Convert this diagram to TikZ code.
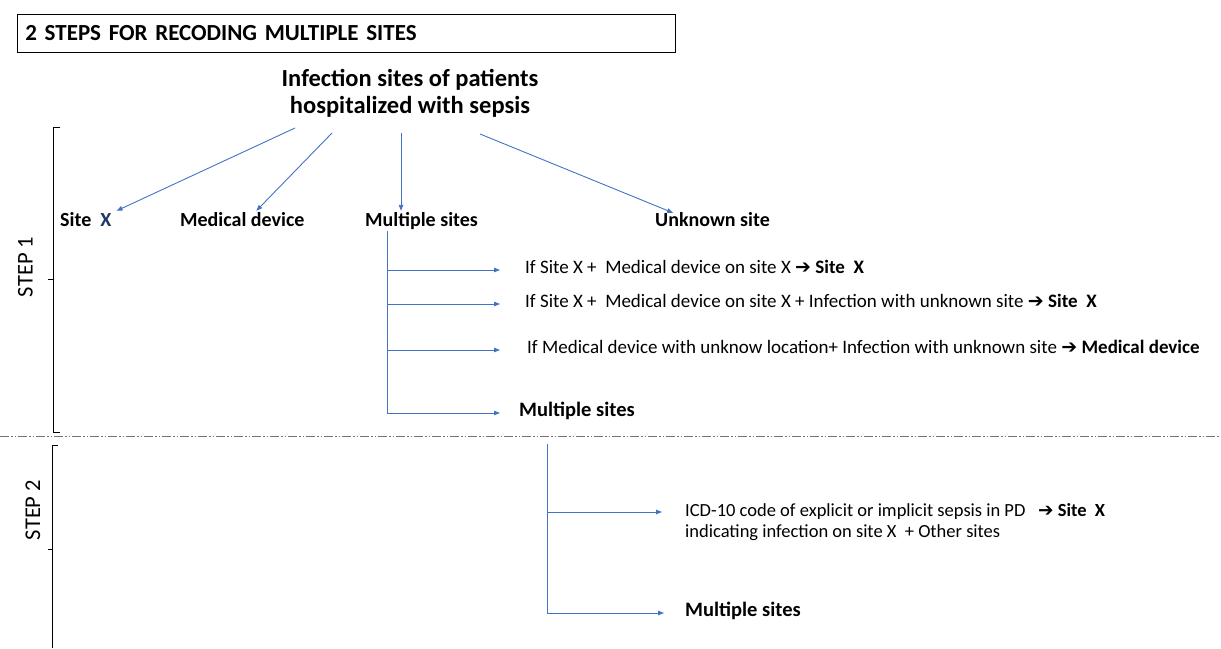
\documentclass[tikz,border=0pt]{standalone}
\usepackage{fontspec}
\setmainfont{Carlito}
\newfontfamily\dejavu{DejaVu Sans}
\usetikzlibrary{arrows.meta,calc}
\definecolor{arrblue}{HTML}{4472C4}
\definecolor{navyx}{HTML}{1F3864}
\newcommand{\rarr}{{\dejavu\bfseries ➔}}
\begin{document}
\begin{tikzpicture}[x=1pt,y=-1pt,
 line/.style={draw=arrblue, line width=0.9pt},
 arr/.style={line, -{Triangle[length=6pt,width=4.5pt]}},
 lvl/.style={font=\fontsize{20}{24}\selectfont\bfseries, inner sep=2pt, text height=0.7em, text depth=0.1em, anchor=west},
 res/.style={font=\fontsize{19}{22}\selectfont, inner sep=2pt, text height=0.7em, text depth=0.1em, anchor=west},
 resb/.style={font=\fontsize{20.5}{24}\selectfont\bfseries, inner sep=2pt, text height=0.7em, text depth=0.1em, anchor=west},
 bracket/.style={draw=black, line width=0.8pt},
 steplabel/.style={font=\fontsize{22.5}{26}\selectfont, rotate=90}]
\useasboundingbox (0,0) rectangle (1221,648);

% title
\node[draw, line width=0.8pt, anchor=north west, minimum width=658pt, minimum height=38pt,
      text width=642pt, inner xsep=8pt, align=left, font=\fontsize{23}{26}\selectfont\bfseries]
      (title) at (17,14) {2 STEPS FOR RECODING MULTIPLE SITES};

% root
\node[font=\fontsize{24.5}{27}\selectfont\bfseries, align=center, inner sep=0pt] (root) at (410,93.5)
      {Infection sites of patients\\hospitalized with sepsis};

% level 1
\node[lvl] (siteX) at (58,223) {Site\ \ \textcolor{navyx}{X}};
\node[lvl] (medical) at (178,223) {Medical device};
\node[lvl] (multi) at (363,223) {Multiple sites};
\node[lvl] (unknown) at (653,223) {Unknown site};

\coordinate (o1) at (295,128);
\coordinate (o2) at (332,133);
\coordinate (o3) at (401,133);
\coordinate (o4) at (480,134);
\draw[arr] (o1) -- ([yshift=6pt,xshift=3pt]siteX.north east);
\draw[arr] (o2) -- ([yshift=6pt,xshift=14pt]medical.north);
\draw[arr] (o3) -- ([yshift=6pt]o3 |- multi.north);
\draw[arr] (o4) -- ([yshift=4pt,xshift=20pt]unknown.north west);

% step 1 results
\node[res] (r1) at (523,270) {If Site X +\ \ Medical device on site X \rarr\ \textbf{Site\ \ X}};
\node[res] (r2) at (523,304) {If Site X +\ \ Medical device on site X + Infection with unknown site \rarr\ \textbf{Site\ \ X}};
\node[res] (r3) at (525,350) {If Medical device with unknow location+ Infection with unknown site \rarr\ \textbf{Medical device}};
\node[resb] (r4) at (517,413) {Multiple sites};

\coordinate (t1) at (387,270);
\coordinate (t2) at (387,304);
\coordinate (t3) at (387,350);
\coordinate (t4) at (387,413);
\draw[line] ([yshift=-2pt]t1 |- multi.south) -- (t4);
\draw[arr, shorten >=23pt] (t1) -- (r1.west);
\draw[arr, shorten >=23pt] (t2) -- (r2.west);
\draw[arr, shorten >=25pt] (t3) -- (r3.west);
\draw[arr, shorten >=17pt] (t4) -- (r4.west);

% separator
\draw[black!55, line width=0.8pt, dash pattern=on 9pt off 2pt on 1.5pt off 2pt on 1.5pt off 2pt] (0,436) -- (1221,436);

% step 2
\node[font=\fontsize{18.5}{21}\selectfont, align=left, anchor=north west, inner sep=2pt] (p1) at (683,501)
   {ICD-10 code of explicit or implicit sepsis in PD\ \ \ \rarr\ \textbf{Site\ \ X}\\
    indicating infection on site X\ \ + Other sites};
\node[resb] (p2) at (683,613) {Multiple sites};
\coordinate (s2top) at (547,444);
\coordinate (u1) at (547,512);
\coordinate (u2) at (547,613);
\draw[line] (s2top) -- (u2);
\draw[arr] (u1) -- ([xshift=-21pt]u1 -| p1.west);
\draw[arr, shorten >=19pt] (u2) -- (p2.west);

% brackets and step labels
\draw[bracket] (60,127) -- (53,127) -- (53,432) -- (60,432);
\draw[bracket] (53,279) -- (48,279);
\draw[bracket] (58,445) -- (52,445) -- (52,648);
\draw[bracket] (52,549) -- (48,549);
\node[steplabel] (step1) at (25.5,267) {STEP 1};
\node[steplabel] (step2) at (33,510) {STEP 2};
\end{tikzpicture}
\end{document}
